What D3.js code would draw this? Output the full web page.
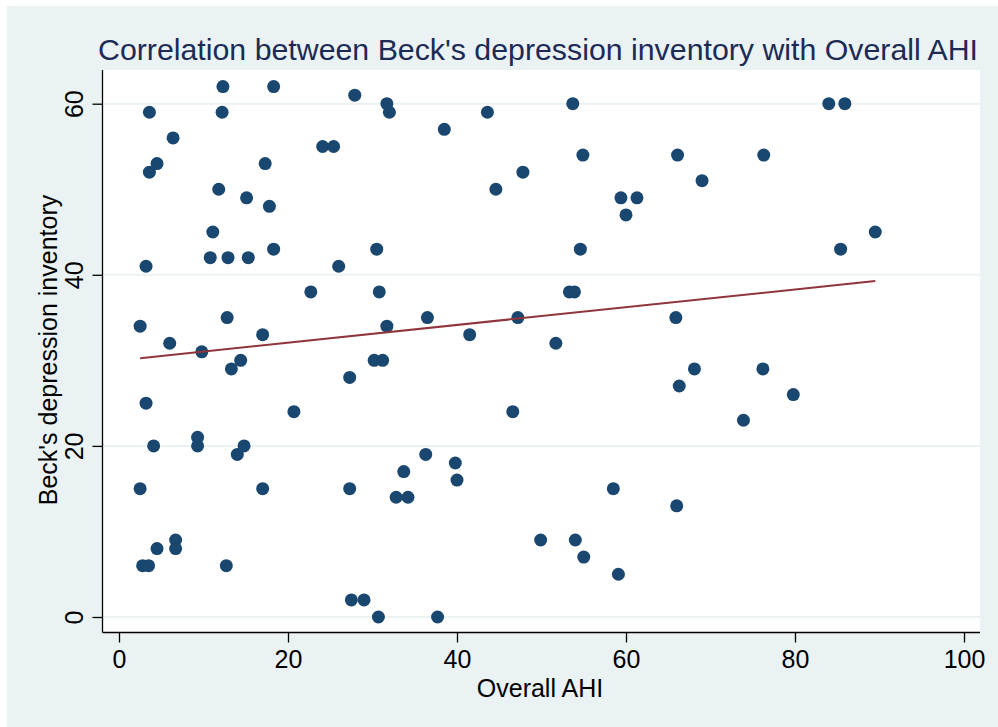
<!DOCTYPE html>
<html>
<head>
<meta charset="utf-8">
<script src="https://cdn.jsdelivr.net/npm/d3@7"></script>
<style>
  html, body { margin: 0; padding: 0; background: #ffffff; }
  svg { display: block; font-family: "Liberation Sans", Arial, sans-serif; }
</style>
</head>
<body>
<svg id="chart" width="998" height="727"></svg>
<script>
// Overall AHI (x) and Beck's depression inventory score (y), one entry per subject
const ahi = [2.5, 2.5, 2.8, 3.5, 3.2, 3.2, 3.6, 3.6, 4.5, 4.1,
  4.5, 6.0, 6.4, 6.7, 6.7, 9.3, 9.3, 9.8, 10.8, 11.1,
  11.8, 12.2, 12.3, 12.7, 12.8, 12.9, 13.3, 14.0, 14.4, 14.8,
  15.1, 15.3, 17.0, 17.0, 17.3, 17.8, 18.3, 18.3, 20.7, 22.7,
  24.1, 25.4, 26.0, 27.3, 27.3, 27.5, 29.0, 27.9, 30.2, 31.2,
  30.5, 30.7, 30.8, 31.7, 32.0, 31.7, 32.8, 34.2, 33.7, 36.3,
  36.5, 37.7, 38.5, 39.8, 40.0, 41.5, 43.6, 44.6, 46.6, 47.2,
  47.8, 49.9, 51.7, 53.3, 53.9, 53.7, 54.0, 54.6, 54.9, 55.0,
  58.5, 59.1, 59.4, 60.0, 61.3, 65.9, 66.0, 66.1, 66.3, 68.1,
  69.0, 73.9, 76.2, 76.3, 79.8, 84.0, 85.9, 85.4, 89.5];
const beck = [34, 15, 6, 6, 41, 25, 59, 52, 53, 20,
  8, 32, 56, 9, 8, 21, 20, 31, 42, 45,
  50, 59, 62, 6, 35, 42, 29, 19, 30, 20,
  49, 42, 33, 15, 53, 48, 43, 62, 24, 38,
  55, 55, 41, 28, 15, 2, 2, 61, 30, 30,
  43, 0, 38, 60, 59, 34, 14, 14, 17, 19,
  35, 0, 57, 18, 16, 33, 59, 50, 24, 35,
  52, 9, 32, 38, 38, 60, 9, 43, 54, 7,
  15, 5, 49, 47, 49, 35, 13, 54, 27, 29,
  51, 23, 29, 54, 26, 60, 60, 43, 45];

// linear fit: [intercept, slope]
const fitCoef = [30.0, 0.1035];

const xTicks = [0, 20, 40, 60, 80, 100];
const yTicks = [0, 20, 40, 60];

const titleText = "Correlation between Beck's depression inventory with Overall AHI";
const xTitle = "Overall AHI";
const yTitle = "Beck's depression inventory";

const svg = d3.select("#chart");
const W = 998, H = 727;

// graph region and plot region
const region = { left: 102.5, right: 980, top: 70, bottom: 632.5 };
const bg = "#eaf2f3";
const font = "Liberation Sans, Arial, sans-serif";

svg.append("rect").attr("x", 7).attr("y", 6).attr("width", W - 7).attr("height", H - 6)
  .attr("fill", bg);
svg.append("rect")
  .attr("x", region.left).attr("y", region.top)
  .attr("width", region.right - region.left).attr("height", region.bottom - region.top)
  .attr("fill", "#ffffff");

const x = d3.scaleLinear().domain([0, 100]).range([119, 964]);
const y = d3.scaleLinear().domain([0, 60]).range([617, 103.7]);

// horizontal gridlines
svg.append("g").selectAll("line").data(yTicks).join("line")
  .attr("x1", region.left).attr("x2", region.right)
  .attr("y1", d => y(d)).attr("y2", d => y(d))
  .attr("stroke", bg).attr("stroke-width", 2);

// scatter points
const pts = ahi.map((v, i) => ({ x: v, y: beck[i] }));
svg.append("g").selectAll("circle").data(pts).join("circle")
  .attr("cx", d => x(d.x)).attr("cy", d => y(d.y)).attr("r", 6.5)
  .attr("fill", "#1a476f");

// fitted line across the observed range of AHI
const [x0, x1] = d3.extent(ahi);
const fit = v => fitCoef[0] + fitCoef[1] * v;
svg.append("line")
  .attr("x1", x(x0)).attr("y1", y(fit(x0)))
  .attr("x2", x(x1)).attr("y2", y(fit(x1)))
  .attr("stroke", "#90353b").attr("stroke-width", 2);

// axes
const xAxis = svg.append("g").attr("transform", `translate(0,${region.bottom})`)
  .call(d3.axisBottom(x).tickValues(xTicks).tickSize(10).tickPadding(8).tickSizeOuter(0));
xAxis.select(".domain").attr("d", `M${region.left},0H${region.right}`).attr("stroke", "#000").attr("stroke-width", 1.3);
xAxis.selectAll(".tick line").attr("stroke", "#000").attr("stroke-width", 1.3);
xAxis.selectAll(".tick text").attr("font-size", 25).attr("fill", "#000")
  .attr("font-family", font);

const yAxis = svg.append("g").attr("transform", `translate(${region.left},0)`)
  .call(d3.axisLeft(y).tickValues(yTicks).tickSize(10).tickSizeOuter(0));
yAxis.select(".domain").attr("d", `M0,${region.top}V${region.bottom}`).attr("stroke", "#000").attr("stroke-width", 1.3);
yAxis.selectAll(".tick line").attr("stroke", "#000").attr("stroke-width", 1.3);
yAxis.selectAll(".tick text")
  .attr("font-size", 25).attr("fill", "#000")
  .attr("font-family", font)
  .attr("x", null).attr("dy", null)
  .attr("text-anchor", "middle")
  .attr("transform", "translate(-20,0) rotate(-90)");

// titles
svg.append("text").attr("x", 538).attr("y", 60).attr("text-anchor", "middle")
  .attr("font-size", 30).attr("textLength", 880).attr("lengthAdjust", "spacingAndGlyphs")
  .attr("fill", "#1c2b55").text(titleText);
svg.append("text").attr("x", 540).attr("y", 697).attr("text-anchor", "middle")
  .attr("font-size", 25).attr("fill", "#000").text(xTitle);
svg.append("text").attr("transform", "translate(57,350) rotate(-90)").attr("text-anchor", "middle")
  .attr("font-size", 25).attr("fill", "#000").text(yTitle);
</script>
</body>
</html>
